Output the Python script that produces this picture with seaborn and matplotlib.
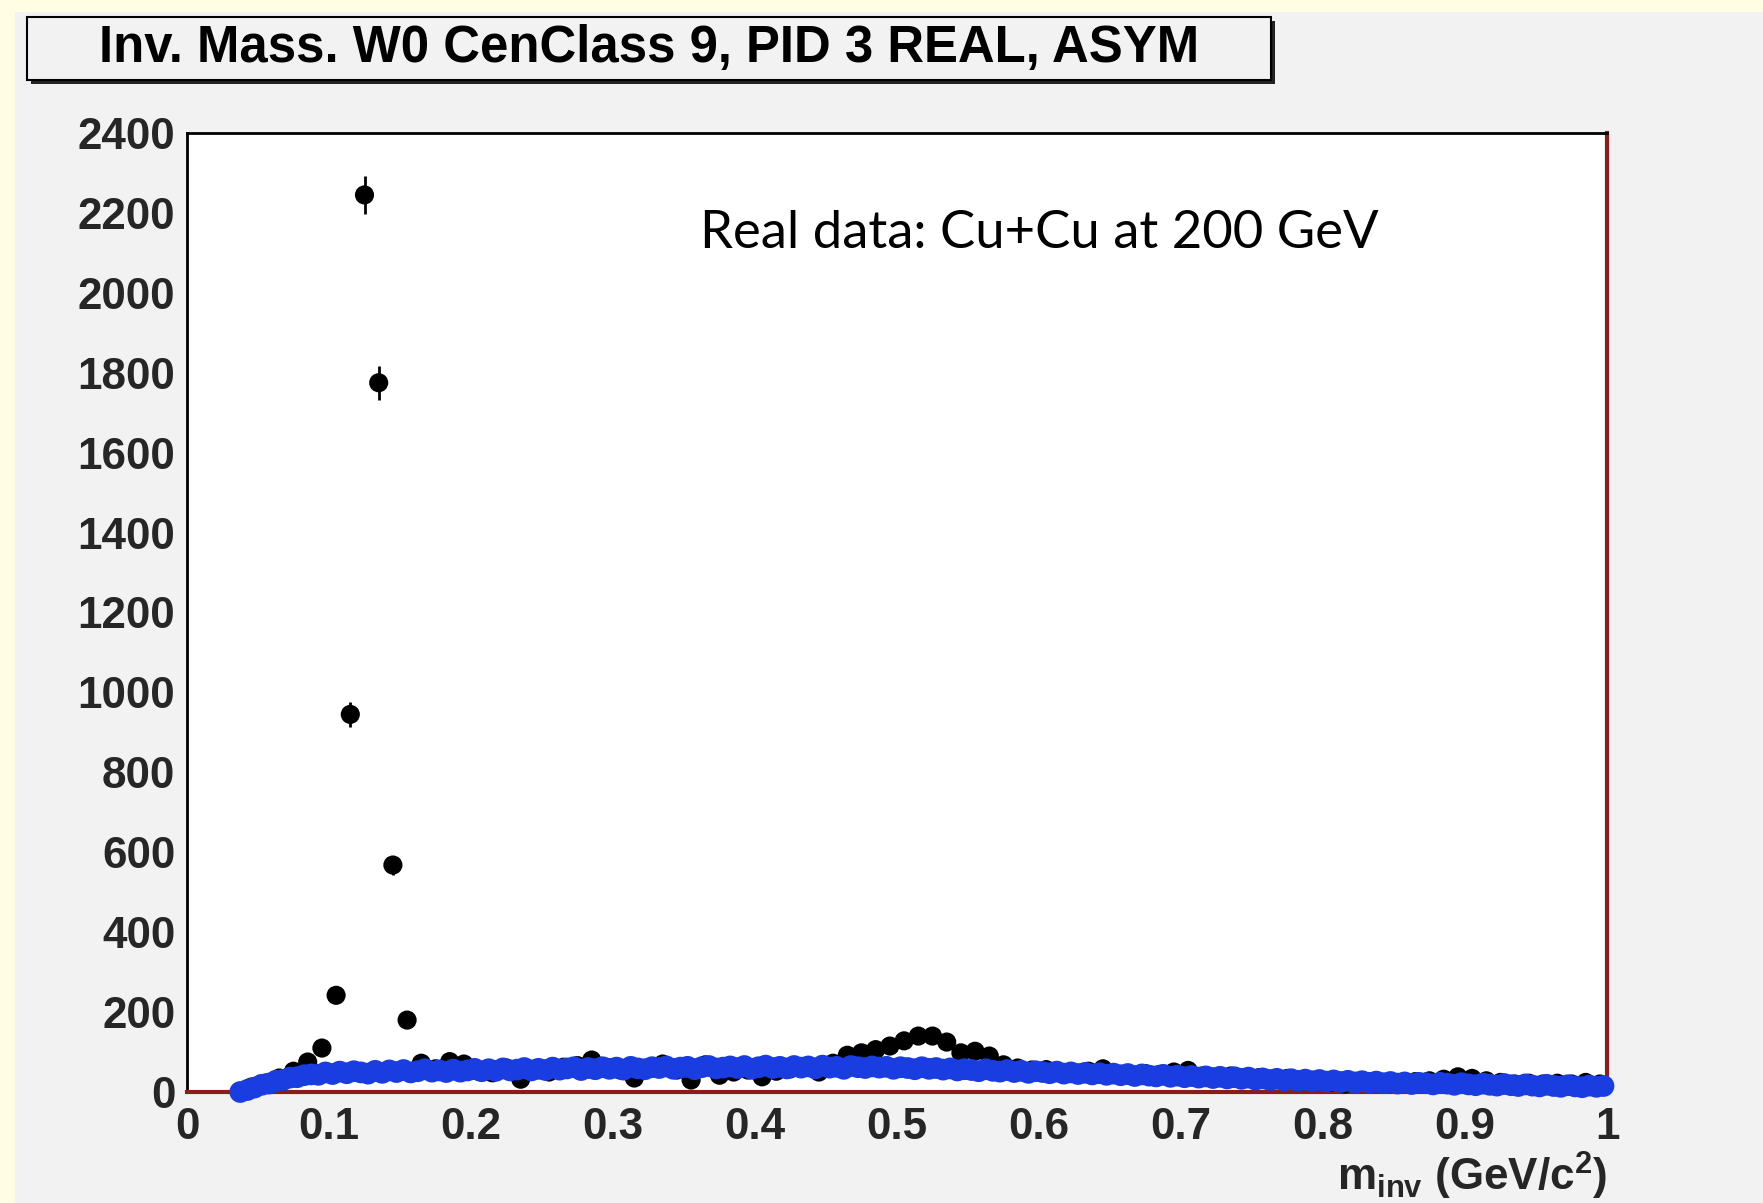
import numpy as np
import pandas as pd
import matplotlib
matplotlib.use("Agg")
import matplotlib.pyplot as plt
from matplotlib.patches import Rectangle
import seaborn as sns

# ---------------------------------------------------------------
# Data
# ---------------------------------------------------------------
# Real-pair invariant-mass spectrum, 0.01 GeV/c^2 bins starting at 0.04
real_lo, real_width = 0.04, 0.01
real_counts = [
    12, 22, 35, 52, 75, 110, 242, 945, 2245, 1775,
    568, 180, 72, 58, 76, 70, 52, 48, 60, 32,
    55, 50, 62, 66, 80, 62, 55, 35, 58, 70,
    55, 30, 68, 42, 50, 55, 38, 52, 58, 62,
    50, 72, 92, 98, 106, 115, 128, 140, 140, 125,
    98, 102, 90, 68, 60, 55, 56, 48, 46, 52,
    58, 44, 40, 46, 44, 50, 54, 40, 36, 40,
    34, 36, 30, 34, 28, 26, 24, 20, 24, 26,
    22, 24, 26, 28, 32, 38, 34, 28, 24, 20,
    22, 20, 22, 20, 24, 20,
]

# Mixed-event background, 0.005 GeV/c^2 bins starting at 0.035
mixed_lo, mixed_width = 0.035, 0.005
mixed_counts = [
    0, 5, 11, 18, 21, 28, 30, 36, 37, 42,
    44, 43, 49, 45, 51, 47, 52, 49, 46, 53,
    48, 54, 50, 55, 49, 52, 57, 51, 54, 50,
    56, 51, 54, 58, 52, 57, 53, 59, 54, 56,
    60, 54, 58, 55, 61, 56, 59, 62, 55, 60,
    57, 62, 58, 61, 56, 63, 59, 57, 62, 60,
    64, 58, 61, 63, 57, 62, 65, 59, 61, 64,
    60, 65, 58, 62, 66, 60, 63, 59, 65, 61,
    64, 59, 66, 61, 63, 58, 65, 62, 60, 64,
    61, 63, 58, 62, 60, 57, 62, 58, 60, 56,
    59, 54, 57, 55, 52, 57, 53, 51, 55, 50,
    53, 48, 52, 50, 47, 51, 46, 49, 45, 48,
    44, 47, 43, 46, 42, 45, 40, 44, 41, 39,
    43, 38, 41, 37, 40, 36, 39, 35, 38, 34,
    37, 33, 36, 31, 34, 30, 33, 29, 32, 28,
    31, 27, 30, 26, 29, 25, 28, 24, 27, 23,
    26, 22, 25, 21, 24, 20, 23, 22, 19, 23,
    21, 18, 22, 19, 17, 21, 18, 16, 20, 17,
    15, 19, 16, 14, 18, 15, 13, 17, 14, 12,
    16, 13, 15,
]

x_ticks = [0.0, 0.1, 0.2, 0.3, 0.4, 0.5, 0.6, 0.7, 0.8, 0.9, 1.0]
x_tick_labels = ["0", "0.1", "0.2", "0.3", "0.4", "0.5", "0.6", "0.7", "0.8", "0.9", "1"]
y_ticks = [0, 200, 400, 600, 800, 1000, 1200, 1400, 1600, 1800, 2000, 2200, 2400]
y_tick_labels = [str(v) for v in y_ticks]

title_text = "Inv. Mass. W0 CenClass 9, PID 3 REAL, ASYM"
note_text = "Real data: Cu+Cu at 200 GeV"

real_df = pd.DataFrame({
    "mass": real_lo + real_width * (np.arange(len(real_counts)) + 0.5),
    "counts": real_counts,
})
mixed_df = pd.DataFrame({
    "mass": mixed_lo + mixed_width * (np.arange(len(mixed_counts)) + 0.5),
    "counts": mixed_counts,
})

# ---------------------------------------------------------------
# Style
# ---------------------------------------------------------------
sns.set_style("white")
plt.rcParams["font.family"] = ["Liberation Sans", "DejaVu Sans"]
plt.rcParams["mathtext.fontset"] = "custom"
plt.rcParams["mathtext.rm"] = "Liberation Sans:bold"
plt.rcParams["mathtext.it"] = "Liberation Sans:bold"
plt.rcParams["mathtext.bf"] = "Liberation Sans:bold"
plt.rcParams["mathtext.default"] = "rm"

W, H = 1763, 1203
CANVAS = "#f2f2f2"
FRAME_RED = "#8b1c1c"
BLUE = "#1a3de2"

fig = plt.figure(figsize=(W / 100, H / 100), dpi=100)
fig.patch.set_facecolor(CANVAS)

# pale slide margin on the left and top
fig.patches.append(Rectangle((0, 0), 15 / W, 1, transform=fig.transFigure,
                             facecolor="#fffde4", edgecolor="none", zorder=0))
fig.patches.append(Rectangle((0, 1 - 12 / H), 1, 12 / H, transform=fig.transFigure,
                             facecolor="#fffde4", edgecolor="none", zorder=0))

# title box with drop shadow
bx0, bx1, by0, by1 = 27, 1271, 17, 80
fig.patches.append(Rectangle(((bx0 + 4) / W, 1 - (by1 + 4) / H), (bx1 - bx0) / W, (by1 - by0) / H,
                             transform=fig.transFigure, facecolor="#222222",
                             edgecolor="none", zorder=1))
fig.patches.append(Rectangle((bx0 / W, 1 - by1 / H), (bx1 - bx0) / W, (by1 - by0) / H,
                             transform=fig.transFigure, facecolor=CANVAS,
                             edgecolor="black", linewidth=1.5, zorder=2))
fig.text((bx0 + bx1) / 2 / W, 1 - 62 / H, title_text, ha="center", va="baseline",
         fontsize=36.6, fontweight="bold", color="black", zorder=3)

# ---------------------------------------------------------------
# Plot area
# ---------------------------------------------------------------
left, right, top, bottom = 187, 1607, 133, 1092
ax = fig.add_axes([left / W, 1 - bottom / H, (right - left) / W, (bottom - top) / H])
ax.set_facecolor("white")

ax.errorbar(real_df["mass"], real_df["counts"], yerr=np.sqrt(real_df["counts"]),
            fmt="none", ecolor="black", elinewidth=2, capsize=0, zorder=3, clip_on=False)
sns.scatterplot(data=real_df, x="mass", y="counts", ax=ax, color="black",
                s=190, marker="o", edgecolor="none", linewidth=0, zorder=4, clip_on=False)
sns.scatterplot(data=mixed_df, x="mass", y="counts", ax=ax, color=BLUE,
                s=245, marker="o", edgecolor="none", linewidth=0, zorder=5, clip_on=False)

ax.set_xlim(0, 1)
ax.set_ylim(0, 2400)

ax.set_xticks(x_ticks, x_tick_labels)
ax.set_yticks(y_ticks, y_tick_labels)
ax.set_xticks(np.arange(0, 1.0001, 0.02), minor=True)
ax.set_yticks(np.arange(0, 2401, 50), minor=True)

ax.tick_params(axis="both", which="both", direction="in", top=False, right=False,
               color="black", width=1.5)
ax.tick_params(axis="y", which="major", length=30.7, pad=8.5, labelsize=31.7)
ax.tick_params(axis="y", which="minor", length=15.3)
ax.tick_params(axis="x", which="major", length=20.7, pad=10.5, labelsize=31.7)
ax.tick_params(axis="x", which="minor", length=10.4)
for lab in ax.get_xticklabels() + ax.get_yticklabels():
    lab.set_fontweight("bold")

for side in ("left", "top"):
    ax.spines[side].set_color("black")
    ax.spines[side].set_linewidth(2)
for side in ("right", "bottom"):
    ax.spines[side].set_color(FRAME_RED)
    ax.spines[side].set_linewidth(3)

ax.set_xlabel(r"$m_{inv}$ (GeV/c$^{2}$)", loc="right", fontsize=31.7,
              fontweight="bold", labelpad=2)
ax.set_ylabel("")

fig.text(700 / W, 1 - 248 / H, note_text, ha="left", va="baseline",
         fontsize=37.9, family=["Lato", "DejaVu Sans"], color="black")

fig.savefig("out.png", dpi=100, facecolor=fig.get_facecolor())
